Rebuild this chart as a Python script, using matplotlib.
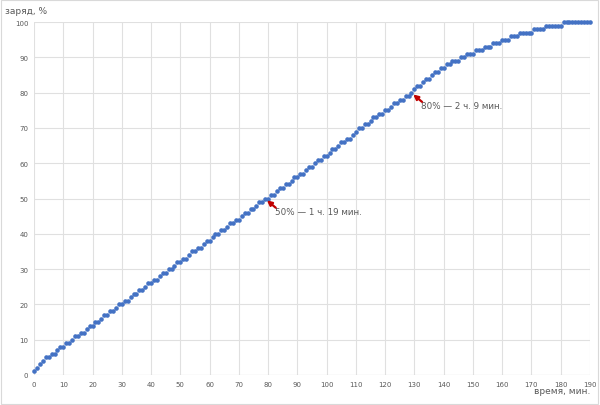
import matplotlib
matplotlib.use("Agg")
import matplotlib.pyplot as plt
import numpy as np

# charge (%) at each minute, 0..190
charge = [
    1, 2, 3, 4, 5, 5, 6, 6, 7, 8,
    8, 9, 9, 10, 11, 11, 12, 12, 13, 14,
    14, 15, 15, 16, 17, 17, 18, 18, 19, 20,
    20, 21, 21, 22, 23, 23, 24, 24, 25, 26,
    26, 27, 27, 28, 29, 29, 30, 30, 31, 32,
    32, 33, 33, 34, 35, 35, 36, 36, 37, 38,
    38, 39, 40, 40, 41, 41, 42, 43, 43, 44,
    44, 45, 46, 46, 47, 47, 48, 49, 49, 50,
    50, 51, 51, 52, 53, 53, 54, 54, 55, 56,
    56, 57, 57, 58, 59, 59, 60, 61, 61, 62,
    62, 63, 64, 64, 65, 66, 66, 67, 67, 68,
    69, 70, 70, 71, 71, 72, 73, 73, 74, 74,
    75, 75, 76, 77, 77, 78, 78, 79, 79, 80,
    81, 82, 82, 83, 84, 84, 85, 86, 86, 87,
    87, 88, 88, 89, 89, 89, 90, 90, 91, 91,
    91, 92, 92, 92, 93, 93, 93, 94, 94, 94,
    95, 95, 95, 96, 96, 96, 97, 97, 97, 97,
    97, 98, 98, 98, 98, 99, 99, 99, 99, 99,
    99, 100, 100, 100, 100, 100, 100, 100, 100, 100, 100,
]
minutes = np.arange(len(charge))

x_ticks = list(range(0, 191, 10))
y_ticks = list(range(0, 101, 10))

notes = [
    {"x": 79, "y": 50, "text": "50% — 1 ч. 19 мин."},
    {"x": 129, "y": 80, "text": "80% — 2 ч. 9 мин."},
]

fig = plt.figure(figsize=(6.0, 4.06), dpi=100)
ax = fig.add_axes([0.0567, 0.074, 0.9266, 0.869])

ax.plot(minutes, charge, linestyle="none", marker="o", markersize=3.3,
        color="#4472C4", markeredgewidth=0, clip_on=False, zorder=3)

ax.set_xlim(0, 190)
ax.set_ylim(0, 100)
ax.set_xticks(x_ticks)
ax.set_yticks(y_ticks)
ax.grid(True, color="#E0E0E0", linewidth=0.8)
ax.set_axisbelow(True)
for s in ax.spines.values():
    s.set_visible(False)
ax.axhline(0, color="#C8C8C8", linewidth=0.8, zorder=1)
ax.tick_params(length=0, labelsize=5, labelcolor="#595959", pad=4)

for n in notes:
    ax.annotate("", xy=(n["x"] + 0.6, n["y"] - 0.5),
                xytext=(n["x"] + 3.6, n["y"] - 2.6),
                arrowprops=dict(arrowstyle="-|>", color="#C00000", lw=1.6,
                                mutation_scale=7, shrinkA=0, shrinkB=0),
                zorder=4)
    ax.text(n["x"] + 3.2, n["y"] - 3.6, n["text"], fontsize=6.3,
            color="#595959", ha="left", va="center")

fig.text(5 / 600, 1 - 12 / 406, "заряд, %", fontsize=6.5, color="#595959",
         ha="left", va="center")
fig.text(590 / 600, 1 - 392 / 406, "время, мин.", fontsize=6.5, color="#595959",
         ha="right", va="center")

border = plt.Rectangle((0.002, 0.003), 0.995, 0.994, transform=fig.transFigure,
                       fill=False, edgecolor="#D9D9D9", linewidth=0.8)
fig.patches.append(border)

fig.savefig("out.png", dpi=100, facecolor="white")
